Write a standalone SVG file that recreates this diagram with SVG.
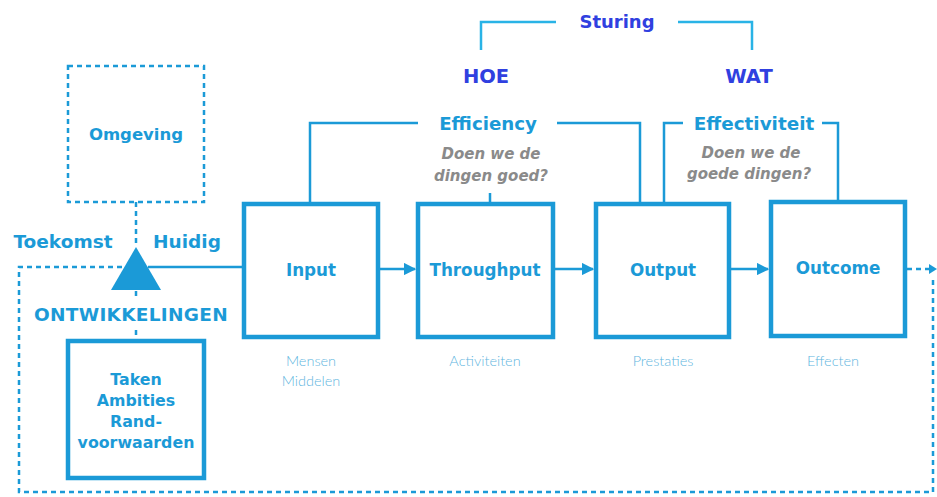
<svg xmlns="http://www.w3.org/2000/svg" width="937" height="497" viewBox="0 0 937 497">
<defs>
<style>
.b{fill:none;stroke:#1b9ad7;stroke-width:4.5}
.l{fill:none;stroke:#1b9ad7;stroke-width:2.5}
.d{fill:none;stroke:#1b9ad7;stroke-width:2.5;stroke-dasharray:5 4}
.s{fill:none;stroke:#29b3e6;stroke-width:2.5}
.t{font-family:"DejaVu Sans",Verdana,sans-serif;font-weight:bold;fill:#1b9ad7;text-anchor:middle}
.n{font-size:16.8px}
.nv{font-family:"DejaVu Sans",Verdana,sans-serif;font-weight:bold;fill:#3040e0;text-anchor:middle}
.g{font-family:"DejaVu Sans",Verdana,sans-serif;font-weight:bold;font-style:italic;fill:#8a8a8a;text-anchor:middle;font-size:15px}
.sub{font-family:Lato,"Open Sans",sans-serif;font-weight:300;fill:#5fb6e0;text-anchor:middle;font-size:14.5px}
</style>
<marker id="ah" viewBox="0 0 10 10" refX="9" refY="5" markerWidth="5" markerHeight="5" orient="auto" markerUnits="strokeWidth">
<path d="M0,0 L10,5 L0,10 z" fill="#1b9ad7"/>
</marker>
</defs>

<g id="connectors">
<path class="s" d="M481,50 V22 H556 M678,22 H752 V50"/>
<path class="l" d="M310,203 V123 H418 M557,123 H640 V203 M490,193 V203"/>
<path class="l" d="M664,203 V123 H683 M822,123 H838 V201"/>
<path class="l" d="M378,269 H415" marker-end="url(#ah)"/>
<path class="l" d="M553,269 H593" marker-end="url(#ah)"/>
<path class="l" d="M729,269 H768" marker-end="url(#ah)"/>
<path class="d" d="M907,269 H930"/>
<path d="M929,264 L937,269 L929,274 z" fill="#1b9ad7"/>
<path class="l" d="M148,267 H243"/>
<path class="d" d="M122,267 H19 V492 H933 V276"/>
<path class="d" d="M136,202 V247"/>
<path class="d" d="M136,291 V299"/>
<path class="d" d="M136,330 V340"/>
</g>

<g id="omgeving">
<rect class="d" x="68" y="66" width="136" height="136"/>
<text class="t" x="136" y="140" font-size="16.5">Omgeving</text>
</g>

<g id="triangle">
<path d="M136,247 L161,290 L111,290 z" fill="#1b9ad7"/>
<text class="t" x="63" y="248" font-size="18.5">Toekomst</text>
<text class="t" x="187" y="248" font-size="18.5">Huidig</text>
<text class="t" x="131" y="321" font-size="18.5" letter-spacing="0.3">ONTWIKKELINGEN</text>
</g>

<g id="taken">
<rect class="b" x="68" y="341" width="136" height="137"/>
<text class="t" x="136" y="385" font-size="15.8">Taken</text>
<text class="t" x="136" y="406" font-size="15.8">Ambities</text>
<text class="t" x="136" y="427" font-size="15.8">Rand-</text>
<text class="t" x="136" y="448" font-size="15.8">voorwaarden</text>
</g>

<g id="input">
<rect class="b" x="244" y="204" width="134" height="133"/>
<text class="t n" x="311" y="276">Input</text>
<text class="sub" x="311" y="366">Mensen</text>
<text class="sub" x="311" y="386">Middelen</text>
</g>

<g id="throughput">
<rect class="b" x="418" y="204" width="135" height="133"/>
<text class="t n" x="485" y="276">Throughput</text>
<text class="sub" x="485" y="366">Activiteiten</text>
</g>

<g id="output">
<rect class="b" x="596" y="204" width="133" height="133"/>
<text class="t n" x="663" y="276">Output</text>
<text class="sub" x="663" y="366">Prestaties</text>
</g>

<g id="outcome">
<rect class="b" x="771" y="202" width="134" height="134"/>
<text class="t n" x="838" y="274">Outcome</text>
<text class="sub" x="833" y="366">Effecten</text>
</g>

<g id="sturing">
<text class="nv" x="617" y="28" font-size="18">Sturing</text>
<text class="nv" x="486" y="83" font-size="19.5">HOE</text>
<text class="nv" x="749" y="83" font-size="19.5">WAT</text>
</g>

<g id="efficiency">
<text class="t" x="488" y="130" font-size="18.2">Efficiency</text>
<text class="g" x="491" y="159">Doen we de</text>
<text class="g" x="491" y="181">dingen goed?</text>
</g>

<g id="effectiviteit">
<text class="t" x="754" y="130" font-size="18.4">Effectiviteit</text>
<text class="g" x="751" y="158">Doen we de</text>
<text class="g" x="749" y="179">goede dingen?</text>
</g>
</svg>
